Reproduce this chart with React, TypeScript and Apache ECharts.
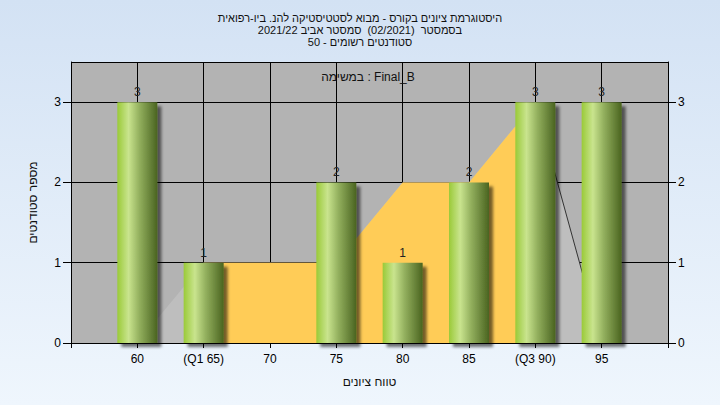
import React, { useEffect, useRef } from "react";
import * as echarts from "echarts";

// ---- data ----
const categories = [60, 65, 70, 75, 80, 85, 90, 95];
const counts = [3, 1, 0, 2, 1, 2, 3, 3];
const curveX = [60, 65, 70, 75, 80, 85, 90, 95];
const curveY = [0, 1, 1, 1, 2, 2, 3, 0];
const q1 = 65;
const q3 = 90;
const xTickValues = [60, 65, 70, 75, 80, 85, 90, 95];
const xTickTexts = ["60", "(Q1 65)", "70", "75", "80", "85", "(Q3 90)", "95"];
const yTickValues = [0, 1, 2, 3];
const titleLines = [
  "היסטוגרמת ציונים בקורס - מבוא לסטטיסטיקה להנ. ביו-רפואית",
  "בסמסטר  (02/2021)  סמסטר אביב 2021/22",
  "סטודנטים רשומים - 50",
];
const subtitle = "במשימה : Final_B";
const xAxisName = "טווח ציונים";
const yAxisName = "מספר סטודנטים";

const FONT = "Liberation Sans, Arial, sans-serif";

export default function App() {
  const ref = useRef<HTMLDivElement>(null);
  useEffect(() => {
    if (!ref.current) return;
    const chart = echarts.init(ref.current, null, { renderer: "svg" });

    const curve = curveX.map((x, i) => [x, curveY[i]]);
    const iqr = curve.filter((p) => p[0] >= q1 && p[0] <= q3);
    const q3Index = curveX.indexOf(q3);
    const tail = curve.slice(q3Index);

    const barGrad = new echarts.graphic.LinearGradient(0, 0, 1, 0, [
      { offset: 0, color: "#9ACA38" },
      { offset: 0.28, color: "#C9E48E" },
      { offset: 0.55, color: "#93B05E" },
      { offset: 1, color: "#4A6420" },
    ]);

    const yLabel = (v: number) => (yTickValues.indexOf(v) >= 0 ? String(v) : "");
    const xLabel = (v: number) => {
      const i = xTickValues.indexOf(v);
      return i >= 0 ? xTickTexts[i] : "";
    };

    const yAxisCommon = {
      type: "value",
      min: 0,
      max: 3.5,
      interval: 1,
      axisLine: { show: true, lineStyle: { color: "#000", width: 1 } },
      axisTick: { show: true, length: 8, lineStyle: { color: "#000" } },
      axisLabel: { color: "#000", fontSize: 12, fontFamily: FONT, margin: 10, formatter: yLabel, showMaxLabel: false },
    };

    const titleTexts = titleLines.map((t, i) => ({
      type: "text",
      x: 360,
      y: 18 + i * 12,
      style: { text: t, fill: "#111", fontSize: 11, fontFamily: FONT, align: "center", verticalAlign: "middle" },
      z: 100,
    }));

    chart.setOption({
      animation: false,
      backgroundColor: new echarts.graphic.LinearGradient(0, 0, 0, 1, [
        { offset: 0, color: "#D3E2F4" },
        { offset: 1, color: "#EFF6FD" },
      ]),
      textStyle: { fontFamily: FONT },
      grid: { left: 71, right: 52, top: 62, bottom: 62, show: true, backgroundColor: "#B3B3B3", borderWidth: 0 },
      graphic: [
        ...titleTexts,
        {
          type: "text",
          x: 368,
          y: 77,
          style: { text: subtitle, fill: "#111", fontSize: 12, fontFamily: FONT, align: "center", verticalAlign: "middle" },
          z: 100,
        },
      ],
      xAxis: {
        type: "value",
        min: 55,
        max: 100,
        interval: 5,
        name: xAxisName,
        nameLocation: "middle",
        nameGap: 33,
        nameTextStyle: { color: "#111", fontSize: 12, fontFamily: FONT },
        axisLine: { show: true, lineStyle: { color: "#000", width: 1 } },
        axisTick: { show: true, length: 5, lineStyle: { color: "#000" } },
        axisLabel: { color: "#000", fontSize: 12, fontFamily: FONT, margin: 10, formatter: xLabel, showMinLabel: true, showMaxLabel: true },
        splitLine: { show: true, lineStyle: { color: "#000", width: 1 } },
      },
      yAxis: [
        {
          ...yAxisCommon,
          position: "left",
          name: yAxisName,
          nameLocation: "middle",
          nameRotate: 90,
          nameGap: 32,
          nameTextStyle: { color: "#111", fontSize: 12, fontFamily: FONT },
          splitLine: { show: true, lineStyle: { color: "#000", width: 1 } },
        },
        {
          ...yAxisCommon,
          position: "right",
          splitLine: { show: false },
        },
      ],
      series: [
        {
          type: "line",
          data: curve,
          showSymbol: false,
          symbol: "none",
          lineStyle: { width: 0 },
          areaStyle: { color: "#BEBEBE", opacity: 1 },
          z: 1,
          silent: true,
        },
        {
          type: "line",
          data: iqr,
          showSymbol: false,
          symbol: "none",
          lineStyle: { width: 0 },
          areaStyle: { color: "#FFCC57", opacity: 1 },
          z: 2,
          silent: true,
        },
        {
          type: "line",
          data: tail,
          showSymbol: false,
          symbol: "none",
          lineStyle: { width: 1, color: "#333" },
          z: 3,
          silent: true,
        },
        {
          type: "bar",
          data: categories.map((c, i) => [c, counts[i]]),
          barWidth: 40,
          itemStyle: {
            color: barGrad,
            shadowColor: "rgba(0,0,0,0.55)",
            shadowBlur: 3,
            shadowOffsetX: 4,
            shadowOffsetY: 4,
          },
          label: {
            show: true,
            position: "top",
            distance: 4,
            color: "#222",
            fontSize: 12,
            fontFamily: FONT,
            formatter: (p: any) => (p.value[1] === 0 ? "" : String(p.value[1])),
          },
          z: 5,
        },
      ],
    });
    return () => chart.dispose();
  }, []);
  return <div ref={ref} style={{ position: "fixed", left: 0, top: 0, width: 720, height: 405 }} />;
}
